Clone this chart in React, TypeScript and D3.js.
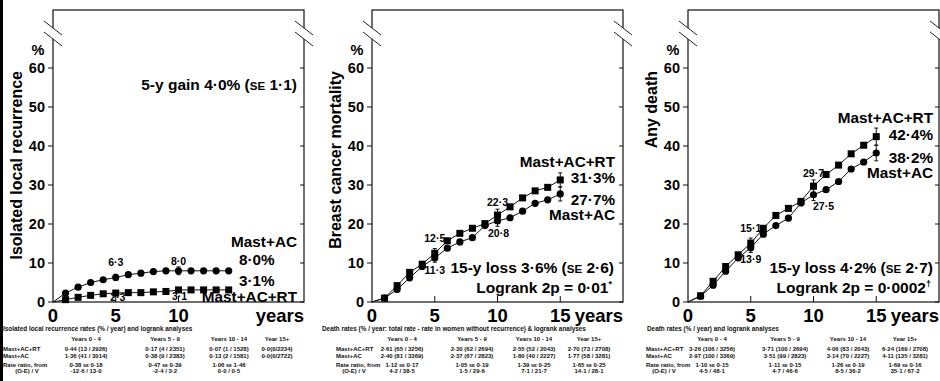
import React from "react";
import * as d3 from "d3";

// ---------- DATA ----------
const lrYears = [1, 2, 3, 4, 5, 6, 7, 8, 9, 10, 11, 12, 13, 14];
const lrRT = [0.6, 1.2, 1.7, 2.1, 2.3, 2.4, 2.4, 2.6, 2.7, 3.1, 3.1, 3.1, 3.1, 3.1];
const lrAC = [2.3, 3.8, 5.0, 5.7, 6.3, 7.0, 7.4, 7.8, 8.0, 8.0, 8.0, 8.0, 8.0, 8.0];
const lrErrYears = [5, 10];
const lrErrRT = [0.5, 0.6];
const lrErrAC = [0.8, 1.0];

const bcYears = [1, 2, 3, 4, 5, 6, 7, 8, 9, 10, 11, 12, 13, 14, 15];
const bcRT = [1.0, 4.2, 7.6, 9.7, 12.5, 15.7, 17.6, 18.9, 20.1, 22.3, 24.4, 26.7, 28.5, 29.4, 31.3];
const bcAC = [1.0, 3.2, 6.2, 9.1, 11.3, 13.8, 15.4, 16.5, 19.6, 20.8, 21.6, 23.3, 25.3, 26.2, 27.7];
const bcErrYears = [5, 10, 15];
const bcErrRT = [1.2, 1.5, 1.8];
const bcErrAC = [1.1, 1.4, 1.8];

const adYears = [1, 2, 3, 4, 5, 6, 7, 8, 9, 10, 11, 12, 13, 14, 15];
const adRT = [1.6, 5.3, 9.1, 12.1, 15.1, 18.9, 22.2, 24.0, 25.8, 29.7, 32.7, 35.1, 38.0, 40.2, 42.4];
const adAC = [1.5, 4.3, 7.9, 11.3, 13.9, 17.4, 19.6, 21.5, 25.4, 27.5, 28.8, 30.9, 34.1, 35.9, 38.2];
const adErrYears = [5, 10, 15];
const adErrRT = [1.3, 1.6, 2.2];
const adErrAC = [1.2, 1.5, 2.0];

const yTicks = [0, 10, 20, 30, 40, 50, 60];
const xTickMarks = [5, 10, 15];
const periods = ["Years 0 - 4", "Years 5 - 9", "Years 10 - 14", "Year 15+"];
const groupRT = "Mast+AC+RT";
const groupAC = "Mast+AC";

const lrTitle = "Isolated local recurrence rates (% / year) and logrank analyses";
const lrRatesRT = ["0·44 (13 / 2926)", "0·17 (4 / 2351)", "0·07 (1 / 1528)", "0·0(0/2234)"];
const lrRatesAC = ["1·36 (41 / 3014)", "0·38 (9 / 2383)", "0·13 (2 / 1581)", "0·0(0/2722)"];
const lrRatioEst = ["0·38", "0·47", "1·06"];
const lrRatioSE = ["0·18", "0·39", "1·46"];
const lrOE = ["-12·6 / 13·0", "-2·4 / 3·2", "0·0 / 0·5"];

const bcTitle = "Death rates (% / year: total rate - rate in women without recurrence) & logrank analyses";
const bcRatesRT = ["2·61 (65 / 3256)", "2·30 (62 / 2694)", "2·55 (52 / 2043)", "2·70 (73 / 2708)"];
const bcRatesAC = ["2·40 (81 / 3369)", "2·37 (67 / 2823)", "1·80 (40 / 2227)", "1·77 (58 / 3281)"];
const bcRatioEst = ["1·12", "1·05", "1·39", "1·65"];
const bcRatioSE = ["0·17", "0·19", "0·25", "0·25"];
const bcOE = ["4·2 / 38·5", "1·5 / 29·6", "7·1 / 21·7", "14·1 / 28·1"];

const adTitle = "Death rates (% / year) and logrank analyses";
const adRatesRT = ["3·26 (106 / 3256)", "3·71 (100 / 2694)", "4·06 (83 / 2043)", "6·24 (169 / 2708)"];
const adRatesAC = ["2·97 (100 / 3369)", "3·51 (99 / 2823)", "3·14 (70 / 2227)", "4·11 (135 / 3281)"];
const adRatioEst = ["1·10", "1·11", "1·26", "1·69"];
const adRatioSE = ["0·15", "0·15", "0·19", "0·16"];
const adOE = ["4·5 / 48·1", "4·7 / 46·6", "8·5 / 36·2", "35·1 / 67·2"];

// ---------- LAYOUT ----------
const FONT = "'Liberation Sans', Arial, Helvetica, sans-serif";
const PW = 251;
const Y0 = 302;
const Y60 = 68;
const TOP = 10;
const XFS = 18.5;
const fmt = (v: number) => d3.format(".1f")(v).replace(".", "\u00B7");

type Ann = { s: "rt" | "ac"; year: number; dx: number; dy: number };
type EndLab = { kind: "rtName" | "acName" | "rtPct" | "acPct"; x: number; y: number; anchor: string };

const panels = [
  {
    left: 53, ylabel: "Isolated local recurrence",
    years: lrYears, rt: lrRT, ac: lrAC, errYears: lrErrYears, errRT: lrErrRT, errAC: lrErrAC,
    xLabels: [0, 5, 10],
    anns: [
      { s: "ac", year: 5, dx: 0, dy: -15 }, { s: "ac", year: 10, dx: 0, dy: -9 },
      { s: "rt", year: 5, dx: 2, dy: 4 }, { s: "rt", year: 10, dx: 1, dy: 6 },
    ] as Ann[],
    ends: [
      { kind: "acName", x: 297, y: 242, anchor: "end" }, { kind: "acPct", x: 239, y: 260, anchor: "start" },
      { kind: "rtPct", x: 239, y: 281, anchor: "start" }, { kind: "rtName", x: 297, y: 297, anchor: "end" },
    ] as EndLab[],
    notes: [{ main: "5-y gain 4·0% (", se: "SE", rest: " 1·1)", sup: "", x: 297, y: 85 }],
    table: { title: lrTitle, ratesRT: lrRatesRT, ratesAC: lrRatesAC, est: lrRatioEst, se: lrRatioSE, oe: lrOE },
    tl: { titleX: 3, rowX: 3, rrC: 27, cols: [86, 165, 229, 277] },
  },
  {
    left: 372, ylabel: "Breast cancer mortality",
    years: bcYears, rt: bcRT, ac: bcAC, errYears: bcErrYears, errRT: bcErrRT, errAC: bcErrAC,
    xLabels: [0, 5, 10, 15],
    anns: [
      { s: "rt", year: 5, dx: 0, dy: -15 }, { s: "ac", year: 5, dx: 0, dy: 12 },
      { s: "rt", year: 10, dx: 0, dy: -13 }, { s: "ac", year: 10, dx: 1, dy: 12 },
    ] as Ann[],
    ends: [
      { kind: "rtName", x: 615, y: 162, anchor: "end" }, { kind: "rtPct", x: 615, y: 178, anchor: "end" },
      { kind: "acPct", x: 615, y: 200, anchor: "end" }, { kind: "acName", x: 615, y: 215, anchor: "end" },
    ] as EndLab[],
    notes: [
      { main: "15-y loss 3·6% (", se: "SE", rest: " 2·6)", sup: "", x: 614, y: 268 },
      { main: "Logrank 2p = 0·01", se: "", rest: "", sup: "*", x: 612, y: 288 },
    ],
    table: { title: bcTitle, ratesRT: bcRatesRT, ratesAC: bcRatesAC, est: bcRatioEst, se: bcRatioSE, oe: bcOE },
    tl: { titleX: 322, rowX: 336, rrC: 354, cols: [402, 472, 534, 589] },
  },
  {
    left: 688, ylabel: "Any death",
    years: adYears, rt: adRT, ac: adAC, errYears: adErrYears, errRT: adErrRT, errAC: adErrAC,
    xLabels: [0, 5, 10, 15],
    anns: [
      { s: "rt", year: 5, dx: 0, dy: -15 }, { s: "ac", year: 5, dx: 0, dy: 12 },
      { s: "rt", year: 10, dx: 0, dy: -13 }, { s: "ac", year: 10, dx: 10, dy: 12 },
    ] as Ann[],
    ends: [
      { kind: "rtName", x: 933, y: 118, anchor: "end" }, { kind: "rtPct", x: 933, y: 135, anchor: "end" },
      { kind: "acPct", x: 933, y: 158, anchor: "end" }, { kind: "acName", x: 933, y: 173, anchor: "end" },
    ] as EndLab[],
    notes: [
      { main: "15-y loss 4·2% (", se: "SE", rest: " 2·7)", sup: "", x: 933, y: 268 },
      { main: "Logrank 2p = 0·0002", se: "", rest: "", sup: "\u2020", x: 931, y: 288 },
    ],
    table: { title: adTitle, ratesRT: adRatesRT, ratesAC: adRatesAC, est: adRatioEst, se: adRatioSE, oe: adOE },
    tl: { titleX: 647, rowX: 646, rrC: 664, cols: [712, 785, 848, 905] },
  },
];

const TBL_FS = 6;
const TITLE_FS = 6.4;
const rowsY = { title: 329, head: 339, rt: 349, ac: 355.5, rr: 365, oe: 371 };

function Panel({ p }: { p: (typeof panels)[number] }) {
  const x = d3.scaleLinear().domain([0, 20]).range([p.left, p.left + PW]);
  const y = d3.scaleLinear().domain([0, 60]).range([Y0, Y60]);
  const right = p.left + PW;
  const line = d3.line<[number, number]>().x((d) => x(d[0])).y((d) => y(d[1]));
  const ptsRT: [number, number][] = [[0, 0], ...p.years.map((yr, i) => [yr, p.rt[i]] as [number, number])];
  const ptsAC: [number, number][] = [[0, 0], ...p.years.map((yr, i) => [yr, p.ac[i]] as [number, number])];
  const valueAt = (s: "rt" | "ac", yr: number) => (s === "rt" ? p.rt : p.ac)[p.years.indexOf(yr)];
  const lastRT = p.rt[p.rt.length - 1];
  const lastAC = p.ac[p.ac.length - 1];
  const endText = (k: string) =>
    k === "rtName" ? groupRT : k === "acName" ? groupAC : k === "rtPct" ? fmt(lastRT) + "%" : fmt(lastAC) + "%";

  const breakMark = (cx: number, key: string) => (
    <g key={key}>
      <polygon points={`${cx - 9},${21} ${cx + 9},${35} ${cx + 9},${46} ${cx - 9},${32}`} fill="white" />
      <line x1={cx - 9} y1={21} x2={cx + 9} y2={35} stroke="#222" strokeWidth={1} />
      <line x1={cx - 9} y1={32} x2={cx + 9} y2={46} stroke="#222" strokeWidth={1} />
    </g>
  );

  const t = p.table;
  const tl = p.tl;
  return (
    <g fontFamily={FONT} fontWeight="bold" fill="#000">
      <rect x={p.left} y={TOP} width={PW} height={Y0 - TOP} fill="none" stroke="#111" strokeWidth={1.2} />
      {breakMark(p.left, "bl")}
      {breakMark(right, "br")}
      {yTicks.map((v) => (
        <g key={"yt" + v}>
          <line x1={p.left - 5} x2={p.left} y1={y(v)} y2={y(v)} stroke="#111" />
          <line x1={right - 4} x2={right} y1={y(v)} y2={y(v)} stroke="#111" />
          <text x={p.left - 8} y={y(v)} dy="0.35em" textAnchor="end" fontSize={14.5}>{v}</text>
        </g>
      ))}
      <text x={p.left - 15} y={50} dy="0.35em" textAnchor="middle" fontSize={14.5}>%</text>
      {xTickMarks.map((v) => (
        <line key={"xt" + v} x1={x(v)} x2={x(v)} y1={Y0} y2={Y0 - 6} stroke="#111" />
      ))}
      {p.xLabels.map((v) => (
        <text key={"xl" + v} x={x(v)} y={322} textAnchor="middle" fontSize={XFS}>{v}</text>
      ))}
      <text x={right} y={322} textAnchor="end" fontSize={XFS}>years</text>
      <text transform={`translate(${p.left - 37},71) rotate(-90)`} dy="0.35em" textAnchor="end" fontSize={16}>
        {p.ylabel}
      </text>
      <path d={line(ptsAC) || ""} fill="none" stroke="#111" strokeWidth={1} />
      <path d={line(ptsRT) || ""} fill="none" stroke="#111" strokeWidth={1} />
      {p.errYears.map((yr, i) => (
        <g key={"e" + yr} stroke="#111" strokeWidth={1}>
          {[
            { v: valueAt("rt", yr), se: p.errRT[i] },
            { v: valueAt("ac", yr), se: p.errAC[i] },
          ].map((e, j) => (
            <g key={j}>
              <line x1={x(yr)} x2={x(yr)} y1={y(e.v - e.se)} y2={y(e.v + e.se)} />
              <line x1={x(yr) - 2} x2={x(yr) + 2} y1={y(e.v - e.se)} y2={y(e.v - e.se)} />
              <line x1={x(yr) - 2} x2={x(yr) + 2} y1={y(e.v + e.se)} y2={y(e.v + e.se)} />
            </g>
          ))}
        </g>
      ))}
      {p.years.map((yr, i) => (
        <circle key={"c" + yr} cx={x(yr)} cy={y(p.ac[i])} r={3.6} fill="#000" />
      ))}
      {p.years.map((yr, i) => (
        <rect key={"s" + yr} x={x(yr) - 3.5} y={y(p.rt[i]) - 3.5} width={7} height={7} fill="#000" />
      ))}
      {p.anns.map((a, i) => (
        <text key={"a" + i} x={x(a.year) + a.dx} y={y(valueAt(a.s, a.year)) + a.dy} dy="0.35em"
          textAnchor="middle" fontSize={10.5}>{fmt(valueAt(a.s, a.year))}</text>
      ))}
      {p.ends.map((e, i) => (
        <text key={"end" + i} x={e.x} y={e.y} dy="0.35em" textAnchor={e.anchor as any} fontSize={15.3}>
          {endText(e.kind)}
        </text>
      ))}
      {p.notes.map((n, i) => (
        <text key={"n" + i} x={n.x} y={n.y} dy="0.35em" textAnchor="end" fontSize={15.5}>
          {n.main}
          {n.se ? <tspan fontSize={11.5}>{n.se}</tspan> : null}
          {n.rest}
          {n.sup ? <tspan fontSize={9} dy={-6}>{n.sup}</tspan> : null}
        </text>
      ))}
      <g fontSize={TBL_FS} fill="#111">
        <text x={tl.titleX} y={rowsY.title} dy="0.35em" fontSize={TITLE_FS}>{t.title}</text>
        {periods.map((pp, i) => (
          <text key={"h" + i} x={tl.cols[i]} y={rowsY.head} dy="0.35em" textAnchor="middle">{pp}</text>
        ))}
        <text x={tl.rowX} y={rowsY.rt} dy="0.35em">{groupRT}</text>
        <text x={tl.rowX} y={rowsY.ac} dy="0.35em">{groupAC}</text>
        {t.ratesRT.map((s, i) => (
          <text key={"r" + i} x={tl.cols[i]} y={rowsY.rt} dy="0.35em" textAnchor="middle">{s}</text>
        ))}
        {t.ratesAC.map((s, i) => (
          <text key={"a" + i} x={tl.cols[i]} y={rowsY.ac} dy="0.35em" textAnchor="middle">{s}</text>
        ))}
        <text x={tl.rowX} y={rowsY.rr} dy="0.35em">Rate ratio, from</text>
        <text x={tl.rrC} y={rowsY.oe} dy="0.35em" textAnchor="middle">(O-E) / V</text>
        {t.est.map((s, i) => (
          <text key={"rr" + i} x={tl.cols[i]} y={rowsY.rr} dy="0.35em" textAnchor="middle">
            {s + " "}<tspan fontSize={TBL_FS * 0.72}>SE</tspan>{" " + t.se[i]}
          </text>
        ))}
        {t.oe.map((s, i) => (
          <text key={"oe" + i} x={tl.cols[i]} y={rowsY.oe} dy="0.35em" textAnchor="middle">{s}</text>
        ))}
      </g>
    </g>
  );
}

export default function App() {
  return (
    <svg width={940} height={381} viewBox="0 0 940 381"
      style={{ position: "absolute", left: 0, top: 0, background: "#fff" }}>
      <rect x={0} y={0} width={940} height={381} fill="#fff" />
      <rect x={0} y={0} width={3} height={381} fill="#000" />
      {panels.map((p, i) => (
        <Panel key={i} p={p} />
      ))}
    </svg>
  );
}
